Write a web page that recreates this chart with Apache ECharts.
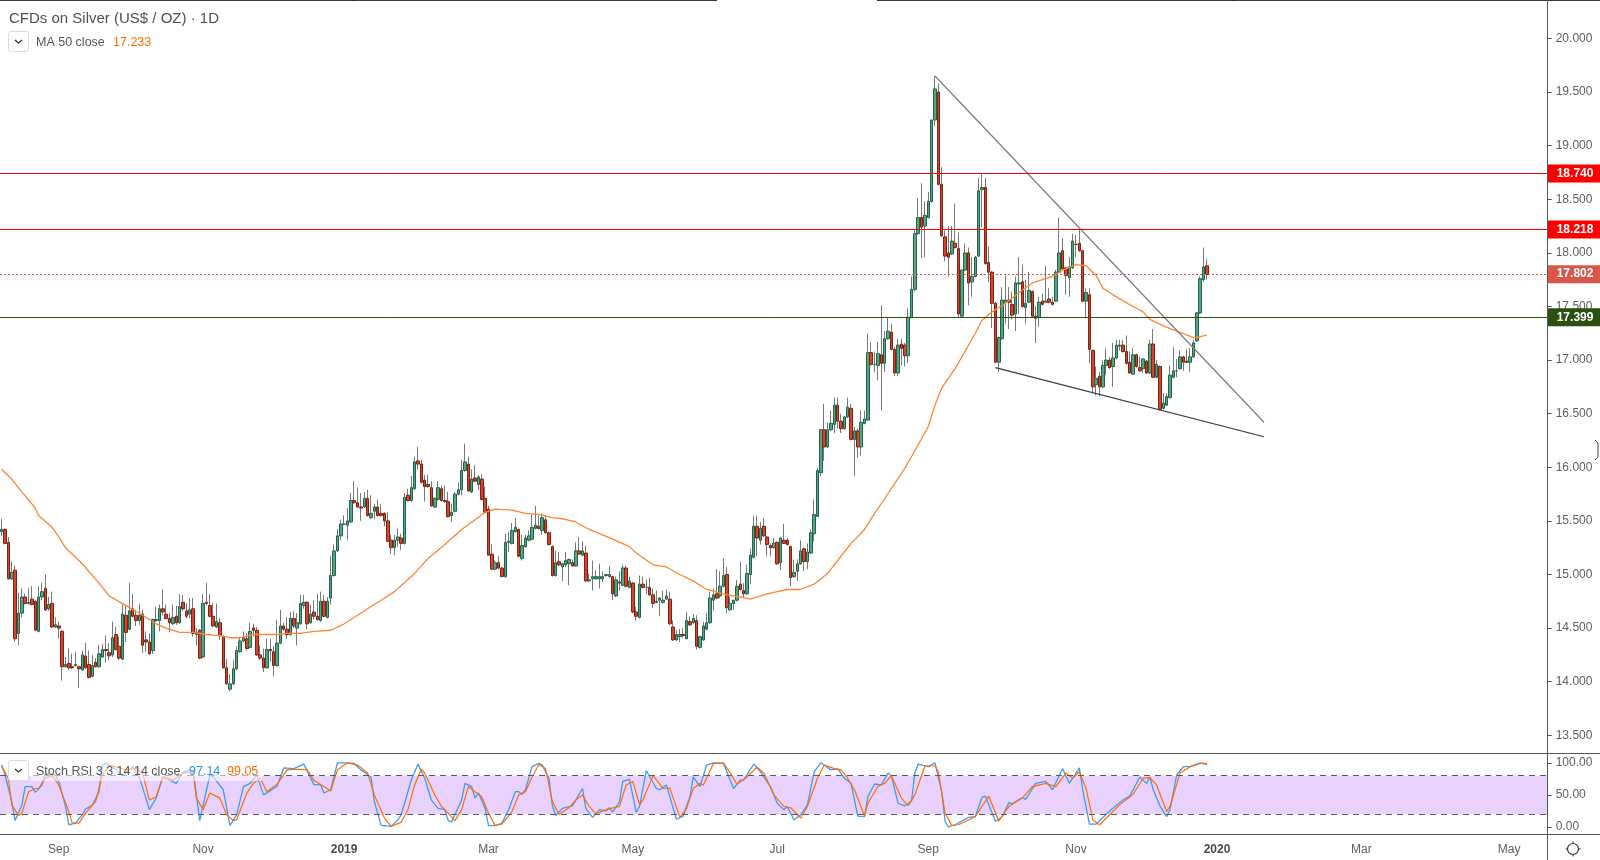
<!DOCTYPE html>
<html>
<head>
<meta charset="utf-8">
<title>CFDs on Silver</title>
<script src="https://cdn.jsdelivr.net/npm/echarts@6/dist/echarts.min.js"></script>
<style>
html, body { margin: 0; padding: 0; background: #fff; }
#chart { width: 1600px; height: 860px; }
</style>
</head>
<body>
<div id="chart"></div>
<script>
// daily bars, each row is open, close, low, high
const barsAug2018 = [
[15.40,15.42,15.36,15.52],[15.42,15.29,15.28,15.43],[15.30,14.96,14.95,15.35],[14.96,15.02,14.95,15.12],[15.04,14.40,14.37,15.08],
[14.45,14.64,14.34,14.83],[14.64,14.79,14.60,14.87],[14.79,14.73,14.72,14.82],[14.73,14.74,14.72,14.87],[14.77,14.72,14.71,14.89],
[14.75,14.48,14.47,14.76],[14.47,14.79,14.46,14.89],[14.79,14.84,14.76,14.92],[14.87,14.67,14.66,15.00],[14.68,14.72,14.66,14.79],
[14.73,14.51,14.50,14.84],[14.51,14.53,14.50,14.60],[14.52,14.50,14.40,14.56],[14.47,14.14,14.01,14.48],[14.14,14.16,14.13,14.23],
[14.17,14.13,14.11,14.31],[14.14,14.13,14.12,14.26],[14.15,14.16,14.14,14.28],[14.14,14.12,13.94,14.15],[14.11,14.25,14.10,14.29],
[14.24,14.13,14.12,14.36],[14.16,14.04,14.03,14.29],[14.05,14.15,14.04,14.25],[14.18,14.14,14.13,14.22],[14.14,14.26,14.13,14.34],
[14.23,14.30,14.22,14.35],[14.30,14.29,14.18,14.43],[14.27,14.24,14.20,14.36],[14.25,14.41,14.23,14.56],[14.44,14.30,14.29,14.51],
[14.33,14.22,14.20,14.42],[14.21,14.63,14.20,14.72],[14.62,14.46,14.37,14.72],[14.49,14.66,14.48,14.92],[14.68,14.61,14.60,14.82],
[14.62,14.57,14.52,14.67],[14.57,14.62,14.53,14.73],[14.63,14.34,14.27,14.67],[14.39,14.37,14.28,14.47],[14.37,14.26,14.25,14.45],
[14.29,14.58,14.26,14.59],[14.57,14.58,14.56,14.70],[14.57,14.68,14.47,14.72],[14.68,14.65,14.62,14.86],[14.63,14.59,14.58,14.72],
[14.59,14.55,14.46,14.64],[14.54,14.60,14.53,14.72],[14.61,14.55,14.53,14.71],[14.55,14.70,14.54,14.82],[14.74,14.68,14.66,14.81],
[14.66,14.61,14.59,14.73],[14.63,14.67,14.59,14.78],[14.68,14.45,14.42,14.78],[14.44,14.46,14.34,14.50],[14.48,14.22,14.21,14.49],
[14.23,14.73,14.22,14.82],[14.74,14.73,14.71,14.92],[14.71,14.61,14.60,14.82],[14.61,14.52,14.51,14.73],[14.51,14.56,14.50,14.73],
[14.55,14.43,14.39,14.59],[14.42,14.13,14.12,14.43],[14.13,13.98,13.97,14.21],[13.93,13.98,13.91,14.07],[13.98,14.12,13.97,14.20],
[14.12,14.29,14.11,14.33],[14.28,14.38,14.27,14.42],[14.38,14.41,14.37,14.47],[14.40,14.31,14.29,14.45],[14.32,14.47,14.31,14.55],
[14.50,14.48,14.42,14.54],[14.48,14.25,14.24,14.51],[14.25,14.22,14.20,14.34],[14.22,14.13,14.09,14.31],[14.13,14.30,14.12,14.40],
[14.30,14.29,14.19,14.40],[14.28,14.15,14.05,14.33],[14.15,14.36,14.14,14.58],[14.36,14.52,14.35,14.67],[14.52,14.49,14.47,14.55],
[14.49,14.44,14.40,14.60],[14.44,14.59,14.43,14.65],[14.59,14.52,14.50,14.66],[14.50,14.55,14.34,14.64],[14.54,14.73,14.53,14.81]
];
const barsDec2018 = [
[14.71,14.74,14.68,14.81],[14.74,14.54,14.49,14.75],[14.55,14.63,14.54,14.72],[14.65,14.61,14.58,14.76],[14.61,14.58,14.57,14.82],
[14.57,14.75,14.56,14.84],[14.75,14.61,14.60,14.81],[14.60,14.75,14.59,14.79],[14.78,14.99,14.72,15.17],[14.99,15.22,14.98,15.28],
[15.22,15.36,15.21,15.42],[15.36,15.47,15.32,15.51],[15.47,15.47,15.46,15.55],[15.46,15.50,15.32,15.62],[15.49,15.69,15.48,15.76],
[15.69,15.67,15.66,15.87],[15.67,15.63,15.62,15.81],[15.63,15.62,15.50,15.76],[15.63,15.71,15.62,15.77],[15.71,15.55,15.54,15.79],
[15.53,15.57,15.52,15.74],[15.59,15.63,15.52,15.66],[15.63,15.55,15.54,15.70],[15.57,15.55,15.54,15.66],[15.57,15.50,15.45,15.58],
[15.50,15.31,15.30,15.58],[15.32,15.25,15.19,15.37],[15.25,15.32,15.18,15.37],[15.32,15.35,15.26,15.43],[15.34,15.29,15.23,15.38],
[15.29,15.72,15.28,15.76],[15.74,15.69,15.68,15.80],[15.69,15.81,15.68,15.92],[15.80,16.05,15.79,16.10],[16.06,16.03,15.98,16.19],
[16.03,15.86,15.85,16.07],[15.88,15.82,15.68,15.93],[15.84,15.82,15.81,15.93],[15.81,15.64,15.63,15.87],[15.63,15.71,15.62,15.72],
[15.70,15.81,15.69,15.87],[15.80,15.69,15.68,15.83],[15.69,15.68,15.67,15.83],[15.68,15.54,15.53,15.77],[15.55,15.58,15.49,15.66],
[15.59,15.75,15.58,15.77],[15.75,15.79,15.74,15.86],[15.79,15.97,15.74,16.07],[15.97,16.05,15.96,16.22],[16.03,15.78,15.77,16.10],
[15.77,15.89,15.76,15.98],[15.90,15.87,15.86,16.02],[15.84,15.91,15.79,15.93],[15.89,15.70,15.69,15.94],[15.71,15.58,15.57,15.82],
[15.61,15.18,15.18,15.64],[15.19,15.05,15.04,15.28],[15.05,15.11,15.04,15.13],[15.11,15.06,15.05,15.17],[15.06,14.98,14.98,15.07],
[14.98,15.30,14.97,15.38],[15.30,15.31,15.21,15.40],[15.29,15.41,15.28,15.48],[15.40,15.44,15.39,15.53],[15.42,15.17,15.16,15.43],
[15.15,15.27,15.13,15.37],[15.26,15.34,15.25,15.37],[15.32,15.36,15.31,15.41],[15.33,15.44,15.32,15.56],[15.43,15.46,15.42,15.64],
[15.45,15.43,15.42,15.55],[15.41,15.53,15.37,15.57],[15.51,15.39,15.38,15.55],[15.39,15.28,15.27,15.40],[15.26,14.99,14.98,15.27],
[14.99,15.11,14.98,15.22],[15.12,15.09,15.08,15.21],[15.07,15.10,14.94,15.11],[15.09,15.13,15.07,15.21],[15.10,15.14,14.90,15.15],
[15.11,15.08,15.07,15.14],[15.08,15.22,15.07,15.30],[15.22,15.19,15.19,15.35],[15.18,15.22,15.17,15.31],[15.20,14.94,14.93,15.27],
[14.94,14.95,14.93,15.01],[14.96,14.98,14.85,15.13],[14.96,14.98,14.95,15.04],[14.96,14.98,14.87,15.10]
];
const barsApr2019 = [
[14.96,14.98,14.93,15.03],[14.99,15.00,14.98,15.00],[14.98,15.00,14.97,15.08],[14.98,14.82,14.76,14.99],[14.80,14.95,14.79,14.98],
[14.93,14.92,14.85,15.03],[14.90,15.06,14.89,15.09],[15.06,14.89,14.88,15.08],[14.88,14.94,14.87,14.98],[14.92,14.65,14.64,14.93],
[14.65,14.61,14.57,14.70],[14.60,14.91,14.59,14.99],[14.91,14.88,14.87,14.98],[14.88,14.88,14.82,14.95],[14.88,14.81,14.80,14.97],
[14.81,14.73,14.69,14.87],[14.74,14.75,14.73,14.85],[14.76,14.78,14.61,14.79],[14.74,14.76,14.73,14.85],[14.77,14.80,14.77,14.86],
[14.77,14.54,14.53,14.84],[14.51,14.39,14.38,14.57],[14.39,14.44,14.38,14.48],[14.42,14.44,14.37,14.49],[14.44,14.43,14.41,14.50],
[14.40,14.57,14.40,14.65],[14.56,14.53,14.52,14.61],[14.55,14.59,14.54,14.63],[14.57,14.33,14.30,14.62],[14.32,14.42,14.31,14.43],
[14.39,14.52,14.38,14.56],[14.49,14.55,14.48,14.64],[14.55,14.78,14.54,14.84],[14.76,14.81,14.66,14.87],[14.82,14.78,14.77,15.05],
[14.80,14.89,14.78,15.03],[14.89,14.99,14.88,15.15],[15.00,14.69,14.64,15.07],[14.67,14.73,14.66,14.79],[14.73,14.76,14.67,14.76],
[14.76,14.89,14.75,14.95],[14.91,14.86,14.85,15.12],[14.85,14.82,14.78,14.92],[14.82,15.01,14.81,15.09],[15.00,15.18,14.91,15.24],
[15.16,15.45,15.15,15.55],[15.45,15.34,15.17,15.55],[15.32,15.43,15.28,15.49],[15.45,15.36,15.35,15.53],[15.35,15.28,15.17,15.36],
[15.27,15.25,15.17,15.29],[15.25,15.29,15.24,15.34],[15.30,15.10,15.09,15.31],[15.11,15.34,15.04,15.35],[15.32,15.29,15.29,15.47],
[15.32,15.28,15.27,15.34],[15.26,14.97,14.89,15.27],[14.98,15.02,14.97,15.14],[15.03,15.10,14.94,15.14],[15.10,15.22,15.09,15.32],
[15.24,15.12,15.03,15.25],[15.12,15.21,15.05,15.29],[15.20,15.39,15.19,15.42],[15.38,15.56,15.31,15.70],[15.54,15.97,15.54,15.99],
[15.95,16.35,15.92,16.36],[16.35,16.19,16.06,16.59],[16.19,16.35,16.18,16.42],[16.35,16.41,16.34,16.53],[16.40,16.58,16.32,16.65],
[16.58,16.43,16.36,16.65],[16.43,16.36,16.32,16.50],[16.36,16.47,16.35,16.48],[16.47,16.56,16.46,16.65],[16.55,16.26,16.25,16.59],
[16.26,16.34,15.92,16.38],[16.34,16.19,16.09,16.36],[16.19,16.42,16.11,16.53],[16.41,16.45,16.40,16.53]
];
const barsAug2019 = [
[16.44,17.07,16.44,17.25],[17.07,16.96,16.95,17.17],[16.96,16.96,16.89,17.08],[16.95,17.06,16.81,17.17],[17.05,16.97,16.53,17.51],
[16.97,17.20,16.89,17.27],[17.20,17.27,17.19,17.40],[17.26,17.10,17.09,17.34],[17.10,16.88,16.85,17.12],[16.88,17.14,16.85,17.20],
[17.15,17.11,16.95,17.20],[17.14,17.04,16.94,17.16],[17.04,17.40,16.97,17.48],[17.40,17.66,17.39,17.78],[17.66,18.18,17.64,18.21],
[18.18,18.33,18.17,18.51],[18.33,18.24,17.95,18.65],[18.25,18.35,17.96,18.48],[18.33,18.48,18.32,18.57],[18.48,19.24,18.47,19.24],
[19.24,19.53,19.18,19.65],[19.50,18.64,18.63,19.58],[18.64,18.16,18.15,18.80],[18.15,17.97,17.92,18.21],[18.00,17.96,17.78,18.25],
[17.99,18.11,17.98,18.25],[18.09,18.05,18.04,18.46],[18.04,17.43,17.40,18.19],[17.41,17.84,17.41,17.84],[17.84,18.00,17.83,18.09],
[18.00,17.72,17.51,18.05],[17.73,17.78,17.59,17.96],[17.78,17.96,17.77,17.97],[17.97,18.58,17.96,18.70],[18.59,18.61,18.24,18.74],
[18.61,17.90,17.89,18.70],[17.91,17.82,17.73,18.06],[17.82,17.53,17.30,17.83],[17.53,16.98,16.97,17.54],[16.98,17.21,16.89,17.22],
[17.20,17.56,17.19,17.68],[17.54,17.56,17.34,17.79],[17.56,17.54,17.29,17.68],[17.52,17.42,17.38,17.64],[17.43,17.72,17.27,17.78]
];
const barsOct2019 = [
[17.71,17.72,17.43,17.96],[17.73,17.50,17.49,17.89],[17.49,17.53,17.34,17.75],[17.54,17.65,17.53,17.82],[17.64,17.41,17.40,17.65],
[17.41,17.39,17.16,17.50],[17.40,17.54,17.31,17.59],[17.55,17.52,17.51,17.62],[17.54,17.55,17.54,17.88],[17.57,17.54,17.53,17.67],
[17.54,17.52,17.51,17.59],[17.55,17.82,17.54,17.84],[17.82,18.00,17.81,18.33],[18.02,17.85,17.84,18.14],[17.86,17.79,17.61,17.87],
[17.77,17.87,17.59,17.96],[17.86,18.11,17.85,18.18],[18.08,18.08,17.96,18.17],[18.09,18.02,18.01,18.22],[18.02,17.55,17.54,18.03],
[17.55,17.63,17.39,17.67],[17.61,17.10,16.97,17.67],[17.09,16.75,16.69,17.10],[16.77,16.83,16.67,16.94],[16.85,16.75,16.66,16.89],
[16.75,16.95,16.74,17.00],[16.95,17.00,16.86,17.11],[17.00,16.93,16.92,17.03],[16.94,17.02,16.75,17.16],[17.02,17.14,17.01,17.19],
[17.13,17.14,17.09,17.19],[17.14,17.08,17.07,17.19],[17.08,16.97,16.96,17.23],[16.98,16.88,16.87,17.08],[16.87,17.05,16.86,17.11],
[17.05,16.94,16.93,17.06],[16.93,16.90,16.89,17.03],[16.92,17.01,16.88,17.02],[16.99,16.88,16.87,17.00],[16.88,17.15,16.87,17.19],
[17.15,16.84,16.83,17.29],[16.84,16.96,16.83,17.00],[16.94,16.54,16.53,16.95],[16.55,16.60,16.54,16.69],[16.58,16.66,16.57,16.69],
[16.65,16.86,16.64,16.95],[16.84,16.90,16.83,17.12],[16.90,16.90,16.84,17.01],[16.92,17.03,16.91,17.09],[17.03,16.98,16.90,17.04],
[16.99,16.98,16.97,17.10],[16.98,17.03,16.89,17.11],[17.03,17.16,17.02,17.19],[17.18,17.44,17.17,17.45],[17.44,17.76,17.43,17.78],
[17.75,17.87,17.73,18.05],[17.88,17.80,17.75,17.94]
];

// points read along the indicators, as [bar number, value]
const ma50 = [
[0,15.98],[3,15.89],[6,15.77],[10,15.62],[11,15.55],[15,15.44],[17,15.35],[19,15.25],[24,15.10],[29,14.92],[32,14.80],[37,14.71],
[42,14.62],[46,14.54],[49,14.50],[53,14.46],[57,14.46],[61,14.44],[65,14.43],[68,14.41],[71,14.41],[75,14.44],[79,14.44],[82,14.44],
[85,14.45],[89,14.45],[93,14.47],[98,14.48],[102,14.54],[106,14.62],[109,14.68],[113,14.76],[117,14.84],[123,15.01],[127,15.15],
[132,15.28],[137,15.42],[141,15.51],[144,15.58],[147,15.61],[152,15.60],[156,15.57],[160,15.56],[164,15.53],[167,15.52],[171,15.49],
[175,15.42],[182,15.33],[187,15.26],[189,15.20],[194,15.09],[198,15.07],[202,15.00],[206,14.94],[210,14.86],[216,14.81],[220,14.79],
[223,14.77],[228,14.82],[234,14.86],[238,14.86],[242,14.91],[246,15.01],[250,15.17],[253,15.29],[257,15.42],[260,15.57],[262,15.66],
[269,15.99],[273,16.21],[276,16.38],[278,16.58],[280,16.74],[284,16.92],[290,17.25],[292,17.37],[295,17.45],[298,17.51],[301,17.58],
[303,17.63],[307,17.72],[313,17.78],[316,17.84],[320,17.89],[323,17.88],[326,17.79],[328,17.67],[332,17.59],[337,17.50],[340,17.45],
[342,17.38],[346,17.32],[350,17.27],[355,17.21],[357,17.22],[359,17.233]
];
const stochK = [
[0,97],[1,81],[3,40],[4,10],[6,34],[7,63],[9,63],[10,54],[12,65],[13,84],[16,81],[17,71],[19,32],[20,3.5],[22,6],[24,19],[25,28],[27,34],
[29,55],[30,96],[31,99],[33,94],[36,80],[39,94],[41,78],[44,27],[46,45],[48,78],[52,68],[54,86],[57,89],[59,10],[62,81],[63,78],[66,58],
[68,2.4],[70,19],[72,63],[74,68],[76,81],[78,50],[82,63],[84,92],[87,91],[90,98],[93,66],[95,66],[96,53],[98,58],[100,100],[102,100],
[105,99],[107,89],[110,78],[111,40],[113,2.4],[116,1],[118,11],[119,19],[120,37],[122,73],[124,98],[126,76],[128,42],[130,29],[132,27],
[133,10],[134,8],[137,42],[138,68],[140,63],[141,45],[142,53],[144,29],[145,2],[147,2],[149,6],[151,27],[153,55],[154,55],[155,51],[156,58],
[158,94],[160,99],[161,96.5],[163,76],[164,34],[165,18],[167,29],[170,33],[173,60],[174,29],[176,15],[178,27],[180,25],[181,30],[182,23],
[184,39],[185,71],[187,74],[189,23],[190,32],[192,88],[195,60],[196,58],[198,65.5],[201,12],[203,17],[205,47],[206,78],[208,63],[210,96.5],
[212,100],[215,99],[218,60],[220,73],[221,73],[224,98],[226,86],[229,63],[231,37],[233,27],[234,32],[236,11],[238,19],[240,34.5],[242,86],
[244,100],[247,89],[249,91],[251,76],[253,68],[255,17],[257,16],[258,47],[260,67],[262,65.5],[264,84],[265,80],[267,37],[269,33],[271,40],
[272,84],[273,98],[276,94],[278,100],[280,55],[281,9],[282,0],[284,3.5],[288,15],[290,16],[292,46],[293,48],[296,9],[298,16],[300,38],
[301,36],[304,46],[305,43],[308,68],[311,71],[313,58],[316,91],[318,68],[321,92],[322,58],[324,4.5],[326,4.5],[330,25],[334,42],[336,48],
[339,78],[341,68],[342,78],[343,58],[345,33],[347,16],[348,27],[350,81],[352,94],[354,94],[357,100],[359,97.14]
];
const stochD = [
[0,94],[2,76],[3,34.5],[5,18],[6,21.5],[8,55],[10,60],[11,60],[13,76],[15,80],[17,65.5],[20,24],[21,6],[23,6],[25,21.5],[28,40],[30,81],
[32,96.5],[34,94],[37,89],[40,91],[42,84],[44,42],[46,47],[48,78],[51,73],[54,84],[57,86],[58,45],[60,27],[62,53],[65,45],[67,19],[69,10],
[70,11.5],[73,53],[75,68],[77,76],[79,55],[82,66.5],[85,89],[88,90],[91,89],[93,73],[96,63],[98,56],[100,89],[103,100],[106,96.5],[109,84],
[111,50],[114,14],[116,1],[119,7.5],[121,27],[123,65.5],[125,90],[126,84],[129,50],[131,32],[133,21.5],[135,10],[137,27],[139,63],[141,55],
[143,47],[145,21.5],[147,2.5],[149,4.5],[152,24],[154,50],[156,55],[158,78],[160,97.5],[162,91],[164,40],[166,20],[169,30],[171,42],[173,50],
[175,32],[177,20.5],[180,27],[184,32],[186,65.5],[188,71],[190,34.5],[191,42],[194,80],[197,60],[199,61],[202,15],[204,29],[206,60],[208,68],
[209,65.5],[212,99],[215,100],[217,84],[219,66.5],[222,78],[225,93],[227,84],[230,50],[233,32],[235,30],[238,14],[240,32],[243,76],[245,96.5],
[248,91],[250,89],[252,76],[254,58],[257,17],[258,37],[261,63],[263,68],[265,80],[268,45],[270,33],[272,50],[275,95],[278,95],[279,86],[281,21.5],
[283,2.5],[285,3.5],[290,16],[294,48],[297,9],[300,32],[304,45],[307,63],[311,68],[314,63],[317,84],[319,76],[321,86],[323,60],[325,11],[327,3.5],
[329,14],[333,34.5],[337,51],[340,76],[342,77],[344,65.5],[347,24],[348,32],[351,84],[354,94],[357,99],[359,99.05]
];

// hand drawn trend lines, [bar number, price]
const upperTrend = [[278,19.65],[376,16.42]];
const lowerTrend = [[296,16.93],[376,16.285]];

const levelValues = [18.74, 18.218, 17.802, 17.399];
const levelColors = ['#ff0000', '#ff0000', '#d9574a', '#2b5012'];
const levelStyles = ['solid', 'solid', [2, 2], 'solid'];

const priceTicks = [13.5, 14, 14.5, 15, 15.5, 16, 16.5, 17, 17.5, 18, 18.5, 19, 19.5, 20];
const stochTicks = [0, 50, 100];
const stochBands = [80, 20];

const monthBars = [17, 60, 102, 145, 188, 231, 276, 320, 362, 405, 449];
const monthLabels = ['Sep', 'Nov', '2019', 'Mar', 'May', 'Jul', 'Sep', 'Nov', '2020', 'Mar', 'May'];

const barCount = 461;
const categories = [];
for (let i = 0; i < barCount; i++) {
    categories.push(String(i));
}
const bars = [].concat(barsAug2018, barsDec2018, barsApr2019, barsAug2019, barsOct2019);
// the wicks are gray and the body borders are not, so the bodies are a second series
const bodies = bars.map(function (b) {
    return [b[0], b[1], Math.min(b[0], b[1]), Math.max(b[0], b[1])];
});

const textFont = '"Liberation Sans", sans-serif';
const axisColor = '#555555';
const labelColor = '#5f5f5f';

function isMonthBar(index) {
    return monthBars.indexOf(index) !== -1;
}

function monthLabel(value) {
    const label = monthLabels[monthBars.indexOf(Number(value))];
    if (label === undefined) {
        return '';
    }
    return /^\d+$/.test(label) ? '{year|' + label + '}' : label;
}

const levelLines = levelValues.map(function (value, i) {
    return {
        yAxis: value,
        lineStyle: { color: levelColors[i], type: levelStyles[i], width: 1 },
        label: { backgroundColor: levelColors[i] }
    };
});

const myChart = echarts.init(document.getElementById('chart'), null, { renderer: 'canvas' });
myChart.setOption({
    animation: false,
    backgroundColor: '#ffffff',
    textStyle: { fontFamily: textFont },
    grid: [
        { left: -0.3, width: 1548, top: 1, height: 752.5 },
        { left: -0.3, width: 1548, top: 753.5, height: 81 }
    ],
    xAxis: [
        {
            type: 'category', gridIndex: 0, data: categories, show: false
        },
        {
            type: 'category', gridIndex: 1, data: categories,
            axisLine: { onZero: false, lineStyle: { color: axisColor } },
            axisTick: { alignWithLabel: true, interval: isMonthBar, length: 3, lineStyle: { color: axisColor } },
            axisLabel: {
                interval: isMonthBar, hideOverlap: false, margin: 9, fontSize: 12, color: labelColor,
                formatter: monthLabel,
                rich: { year: { fontSize: 12, fontWeight: 'bold', color: '#4a4a4a' } }
            },
            splitLine: { show: false }
        }
    ],
    yAxis: [
        {
            type: 'value', gridIndex: 0, position: 'right', min: 13.33, max: 20.35, scale: true,
            axisLine: { show: true, lineStyle: { color: axisColor } },
            axisTick: { show: true, length: 4, customValues: priceTicks, lineStyle: { color: axisColor } },
            axisLabel: {
                customValues: priceTicks, margin: 8, fontSize: 12, color: labelColor,
                formatter: function (v) { return v.toFixed(3); }
            },
            splitLine: { show: false }
        },
        {
            type: 'value', gridIndex: 1, position: 'right', min: -11.7, max: 114.5,
            axisLine: { show: true, lineStyle: { color: axisColor } },
            axisTick: { show: true, length: 4, customValues: stochTicks, lineStyle: { color: axisColor } },
            axisLabel: {
                customValues: stochTicks, margin: 8, fontSize: 12, color: labelColor,
                formatter: function (v) { return v.toFixed(2); }
            },
            splitLine: { show: false }
        }
    ],
    series: [
        {
            name: 'wicks', type: 'candlestick', xAxisIndex: 0, yAxisIndex: 0, barWidth: 1, data: bars, silent: true,
            itemStyle: { color: '#787878', color0: '#787878', borderColor: '#787878', borderColor0: '#787878', borderWidth: 1 },
            markLine: {
                silent: true, symbol: 'none', animation: false, precision: 3, data: levelLines,
                label: {
                    position: 'end', distance: 0, formatter: function (p) { return p.value.toFixed(3); },
                    color: '#ffffff', fontWeight: 'bold', fontSize: 12, fontFamily: textFont,
                    width: 44, height: 18, lineHeight: 18, padding: [0, 0, 0, 9], align: 'left'
                }
            }
        },
        {
            name: 'bodies', type: 'candlestick', xAxisIndex: 0, yAxisIndex: 0, barWidth: 3, data: bodies, silent: true,
            itemStyle: { color: '#52a681', color0: '#d4452f', borderColor: '#256349', borderColor0: '#7f2214', borderWidth: 1 }
        },
        {
            name: 'MA 50 close', type: 'line', xAxisIndex: 0, yAxisIndex: 0, data: ma50, showSymbol: false, silent: true,
            lineStyle: { color: '#ff8533', width: 1.3 }
        },
        {
            name: 'upper trend', type: 'line', xAxisIndex: 0, yAxisIndex: 0, data: upperTrend, showSymbol: false, silent: true,
            lineStyle: { color: '#7b7b7b', width: 1.2 }
        },
        {
            name: 'lower trend', type: 'line', xAxisIndex: 0, yAxisIndex: 0, data: lowerTrend, showSymbol: false, silent: true,
            lineStyle: { color: '#3a3a3a', width: 1.2 }
        },
        {
            name: 'Stoch K', type: 'line', xAxisIndex: 1, yAxisIndex: 1, data: stochK, showSymbol: false, silent: true,
            lineStyle: { color: '#3f9cf0', width: 1.3 },
            markArea: {
                silent: true,
                itemStyle: { color: '#e9d1fd' },
                data: [[{ yAxis: stochBands[1] }, { yAxis: stochBands[0] }]]
            },
            markLine: {
                silent: true, symbol: 'none', animation: false,
                label: { show: false },
                lineStyle: { color: '#5d5560', type: [6, 5], width: 1 },
                data: stochBands.map(function (v) { return { yAxis: v }; })
            }
        },
        {
            name: 'Stoch D', type: 'line', xAxisIndex: 1, yAxisIndex: 1, data: stochD, showSymbol: false, silent: true,
            lineStyle: { color: '#ff6d00', width: 1.2 }
        }
    ],
    graphic: [
        // pane frame that runs past the plot area
        { type: 'line', z: 20, shape: { x1: 0, y1: 0.5, x2: 717, y2: 0.5 }, style: { stroke: '#2f3540' } },
        { type: 'line', z: 20, shape: { x1: 877, y1: 0.5, x2: 1600, y2: 0.5 }, style: { stroke: '#2f3540' } },
        { type: 'line', z: 20, shape: { x1: 0, y1: 753.5, x2: 1600, y2: 753.5 }, style: { stroke: axisColor } },
        { type: 'line', z: 20, shape: { x1: 0, y1: 834.5, x2: 1600, y2: 834.5 }, style: { stroke: axisColor } },
        { type: 'line', z: 20, shape: { x1: 1547.5, y1: 0, x2: 1547.5, y2: 860 }, style: { stroke: axisColor } },
        // legend of the price pane
        { type: 'text', z: 21, left: 9, top: 11, style: { text: 'CFDs on Silver (US$ / OZ) \u00b7 1D', fill: '#4f4f4f', font: '15px ' + textFont } },
        { type: 'rect', z: 21, shape: { x: 8.5, y: 31.5, width: 20, height: 20, r: 2 }, style: { fill: '#ffffff', stroke: '#dcdcdc' } },
        { type: 'polyline', z: 22, shape: { points: [[15, 40], [18.5, 43], [22, 40]] }, style: { fill: 'none', stroke: '#333333', lineWidth: 1.3 } },
        { type: 'text', z: 21, left: 36, top: 36, style: { text: 'MA 50 close', fill: '#555555', font: '12.5px ' + textFont } },
        { type: 'text', z: 21, left: 113, top: 36, style: { text: '17.233', fill: '#ff6d00', font: '12.5px ' + textFont } },
        // legend of the stochastic pane
        { type: 'rect', z: 21, shape: { x: 31, y: 763, width: 231, height: 18 }, style: { fill: 'rgba(255,255,255,0.55)' } },
        { type: 'rect', z: 21, shape: { x: 8.5, y: 760.5, width: 20, height: 20, r: 2 }, style: { fill: '#ffffff', stroke: '#dcdcdc' } },
        { type: 'polyline', z: 22, shape: { points: [[15, 769], [18.5, 772], [22, 769]] }, style: { fill: 'none', stroke: '#333333', lineWidth: 1.3 } },
        { type: 'text', z: 22, left: 36, top: 765, style: { text: 'Stoch RSI 3 3 14 14 close', fill: '#555555', font: '12.5px ' + textFont } },
        { type: 'text', z: 22, left: 189, top: 765, style: { text: '97.14', fill: '#2196f3', font: '12.5px ' + textFont } },
        { type: 'text', z: 22, left: 227, top: 765, style: { text: '99.05', fill: '#ff6d00', font: '12.5px ' + textFont } },
        // mouse cursor caught at the right edge of the screenshot
        { type: 'polyline', z: 22, shape: { points: [[1595, 440], [1598, 443], [1598, 457], [1595, 460]] }, style: { fill: 'none', stroke: '#444444', lineWidth: 1 } },
        // settings gear in the corner
        { type: 'circle', z: 21, shape: { cx: 1573, cy: 849, r: 5.5 }, style: { fill: 'none', stroke: '#333333', lineWidth: 1.2 } },
        { type: 'line', z: 21, shape: { x1: 1573, y1: 841.5, x2: 1573, y2: 856.5 }, style: { stroke: '#333333', lineDash: [2, 11] } },
        { type: 'line', z: 21, shape: { x1: 1565.5, y1: 849, x2: 1580.5, y2: 849 }, style: { stroke: '#333333', lineDash: [2, 11] } }
    ]
});
</script>
</body>
</html>
